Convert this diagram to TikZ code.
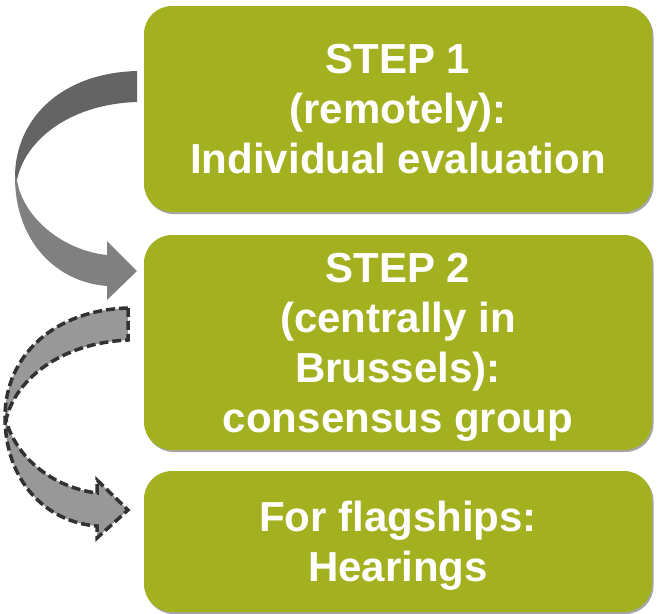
\documentclass[tikz,border=0pt]{standalone}
\usepackage{fontspec}
\setmainfont{Liberation Sans}
\usetikzlibrary{shadows}
\definecolor{boxgreen}{RGB}{163,177,32}
\definecolor{arrdark}{RGB}{100,100,100}
\definecolor{arrlight}{RGB}{128,128,128}
\definecolor{arrfill}{RGB}{152,152,152}
\definecolor{dashcol}{RGB}{50,50,50}
\tikzset{
  stepbox/.style={draw=none, fill=boxgreen, rounded corners=28pt, minimum width=508pt,
    inner sep=0pt, align=center, text=white, text depth=0pt,
    font=\bfseries\fontsize{42}{50}\selectfont,
    drop shadow={shadow xshift=1.5pt, shadow yshift=-2pt, opacity=0.35, fill=black}},
  darkpart/.style={fill=arrdark, draw=none},
  lightpart/.style={fill=arrlight, draw=none},
  dashedarrow/.style={fill=arrfill, draw=dashcol, line width=3.5pt, dash pattern=on 9pt off 4pt, line join=miter}
}
\begin{document}
\begin{tikzpicture}[x=1pt,y=-1pt]
\useasboundingbox (0,0) rectangle (658,613);
\node[stepbox, minimum height=206pt] (s1) at (398,109) {STEP 1\\(remotely):\\Individual evaluation};
\node[stepbox, minimum height=215pt] (s2) at (398,342.5) {STEP 2\\(centrally in\\Brussels):\\consensus group};
\node[stepbox, minimum height=141pt] (s3) at (398,541.5) {For flagships:\\Hearings};
% curved arrow 1 (solid)
\path[darkpart] (137,71) .. controls (60,73) and (15,120) .. (15,177)
  -- (17,180) .. controls (25,140) and (70,104) .. (137,102) -- cycle;
\path[lightpart] (15,177) .. controls (15,240) and (55,282) .. (107,286)
  -- (107,300) -- (137,271) -- (107,241) -- (107,255)
  .. controls (60,250) and (22,215) .. (17,180) -- cycle;
% curved arrow 2 (dashed)
\path[dashedarrow] (128,308) .. controls (55,310) and (5,355) .. (5,417)
  .. controls (5,480) and (45,522) .. (97,526)
  -- (97,538) -- (128,510) -- (97,480) -- (97,493)
  .. controls (50,487) and (15,455) .. (6,420)
  .. controls (15,380) and (60,343) .. (128,340) -- cycle;
\end{tikzpicture}
\end{document}
